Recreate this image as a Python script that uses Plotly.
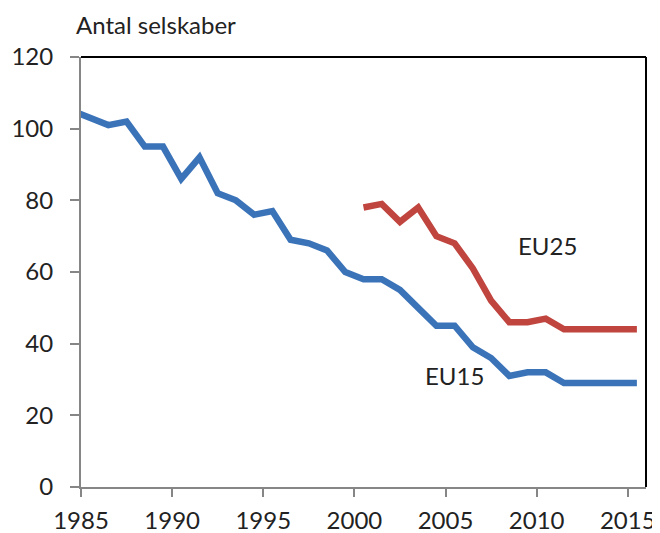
import plotly.graph_objects as go

# Data (points plotted at mid-year positions, as in the source chart)
eu15_years = [1984.5, 1985.5, 1986.5, 1987.5, 1988.5, 1989.5, 1990.5, 1991.5, 1992.5,
              1993.5, 1994.5, 1995.5, 1996.5, 1997.5, 1998.5, 1999.5, 2000.5, 2001.5,
              2002.5, 2003.5, 2004.5, 2005.5, 2006.5, 2007.5, 2008.5, 2009.5, 2010.5,
              2011.5, 2012.5, 2013.5, 2014.5, 2015.5]
eu15_values = [105, 103, 101, 102, 95, 95, 86, 92, 82, 80, 76, 77, 69, 68, 66, 60,
               58, 58, 55, 50, 45, 45, 39, 36, 31, 32, 32, 29, 29, 29, 29, 29]

eu25_years = [2000.5, 2001.5, 2002.5, 2003.5, 2004.5, 2005.5, 2006.5, 2007.5,
              2008.5, 2009.5, 2010.5, 2011.5, 2012.5, 2013.5, 2014.5, 2015.5]
eu25_values = [78, 79, 74, 78, 70, 68, 61, 52, 46, 46, 47, 44, 44, 44, 44, 44]

x_ticks = [1985, 1990, 1995, 2000, 2005, 2010, 2015]
y_ticks = [0, 20, 40, 60, 80, 100, 120]

FONT = "Lato"
FS = 24
TXT = "#222222"
BLUE = "#3b73b9"
RED = "#c0453f"
AXIS = "#868686"

fig = go.Figure()
fig.add_trace(go.Scatter(x=eu15_years, y=eu15_values, mode="lines", name="EU15",
                         line=dict(color=BLUE, width=6.5)))
fig.add_trace(go.Scatter(x=eu25_years, y=eu25_values, mode="lines", name="EU25",
                         line=dict(color=RED, width=6.5)))

# The page body has an 8px default margin, so the figure is sized 8px smaller.
fig.update_layout(
    width=652, height=525,
    margin=dict(l=73, r=14, t=49, b=46),
    paper_bgcolor="white", plot_bgcolor="white",
    showlegend=False,
    font=dict(family=FONT, size=FS, color=TXT),
    xaxis=dict(range=[1985, 2016], tickvals=x_ticks, showgrid=False, zeroline=False,
               automargin=False,
               showline=True, linecolor=AXIS, linewidth=2,
               ticks="outside", ticklen=8, tickcolor=AXIS, tickwidth=1.5,
               ticklabelstandoff=3,
               tickfont=dict(family=FONT, size=FS, color=TXT)),
    yaxis=dict(range=[0, 120], tickvals=y_ticks, showgrid=False, zeroline=False,
               automargin=False,
               showline=True, linecolor=AXIS, linewidth=2,
               ticks="outside", ticklen=9, tickcolor=AXIS, tickwidth=1.5,
               ticklabelstandoff=12,
               tickfont=dict(family=FONT, size=FS, color=TXT)),
    shapes=[
        dict(type="line", xref="paper", yref="paper", x0=0, x1=1, y0=1, y1=1,
             line=dict(color="black", width=2)),
        dict(type="line", xref="paper", yref="paper", x0=1, x1=1, y0=0, y1=1,
             line=dict(color="black", width=2)),
    ],
    annotations=[
        dict(text="Antal selskaber", xref="paper", yref="paper", x=0, y=1,
             xanchor="left", yanchor="bottom", xshift=-7, yshift=16, showarrow=False,
             font=dict(family=FONT, size=FS, color=TXT)),
        dict(text="EU25", x=2010.6, y=67.3, xref="x", yref="y", showarrow=False,
             font=dict(family=FONT, size=FS, color=TXT)),
        dict(text="EU15", x=2005.5, y=31.1, xref="x", yref="y", showarrow=False,
             font=dict(family=FONT, size=FS, color=TXT)),
    ],
)

fig.write_html("out.html")
